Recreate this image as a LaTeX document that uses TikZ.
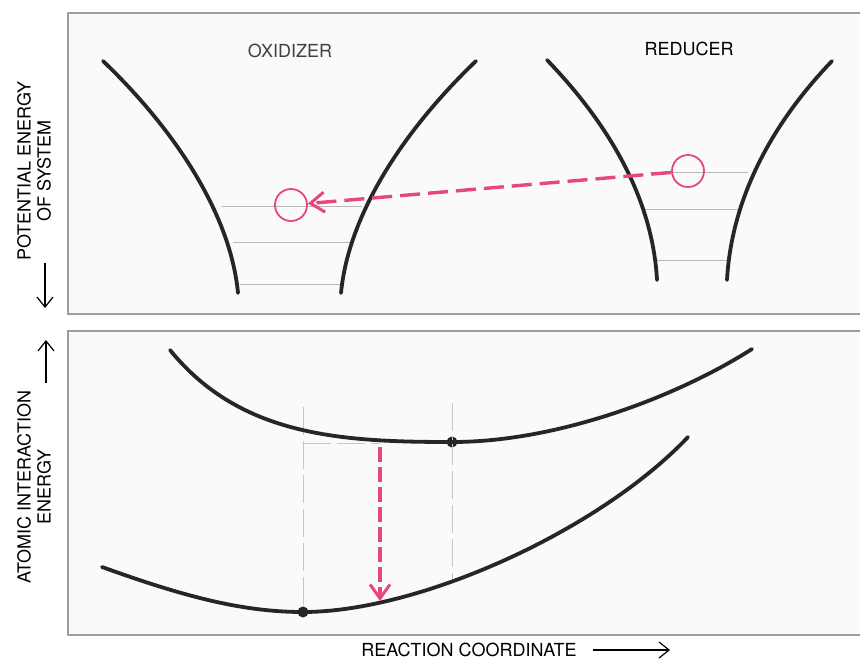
\documentclass[tikz,border=0pt]{standalone}
\usepackage{fontspec}
\setmainfont{TeX Gyre Heros}
\usepackage{tikz}
\usetikzlibrary{arrows.meta, positioning}
\definecolor{redoxpink}{RGB}{232,70,128}
\tikzset{
  panel/.style={draw=black!38, line width=1pt, fill=black!2},
  wellcurve/.style={line width=1.9pt, black!85, line cap=round},
  levelline/.style={black!28, line width=0.5pt},
  guideline/.style={black!22, line width=0.5pt, dash pattern=on 14pt off 3pt},
  paneltitle/.style={font=\fontsize{9}{10}\selectfont, inner sep=0pt},
  axislabel/.style={font=\fontsize{9}{10}\selectfont, align=center, inner sep=0pt},
  axisarrow/.style={line width=0.6pt, -{Straight Barb[length=5pt, width=8pt, line width=0.6pt]}}
}

\begin{document}
\begin{tikzpicture}[
  x=0.5pt, y=-0.5pt,
  electron/.style={circle, draw=redoxpink, line width=0.9pt, minimum size=16pt, inner sep=0pt},
  statedot/.style={circle, fill=black!85, minimum size=5.5pt, inner sep=0pt},
  jumparrow/.style={redoxpink, line width=1.7pt, dash pattern=on 10pt off 4pt,
                    -{Straight Barb[length=7pt, width=10pt, line width=1.5pt]}},
  droparrow/.style={jumparrow, dash pattern=on 7.5pt off 2.5pt},
]
\useasboundingbox (0,0) rectangle (860,659);

% --- Panels ---
\draw[panel] (68,13) rectangle (875,314);
\draw[panel] (68,331) rectangle (875,635);

% --- Oxidizer well ---
\draw[levelline] (222,206) -- (362,206);
\draw[levelline] (233,242) -- (353,242);
\draw[levelline] (240,284) -- (340,284);
\draw[wellcurve] (103,61) .. controls (170,125) and (230,210) .. (238,293);
\draw[wellcurve] (341,293) .. controls (349,210) and (409,125) .. (476,61);
\node[paneltitle, text=black!75] (oxlabel) at (290,51) {OXIDIZER};

% --- Reducer well ---
\draw[levelline] (650,172) -- (748,172);
\draw[levelline] (645,209) -- (738,209);
\draw[levelline] (655,260) -- (728,260);
\draw[wellcurve] (547,60) .. controls (600,115) and (652,190) .. (657,280);
\draw[wellcurve] (727,280) .. controls (732,190) and (780,115) .. (832,61);
\node[paneltitle] (redlabel) at (689,49) {REDUCER};

% --- Electron jump ---
\node[electron] (oxcirc) at (291,205) {};
\node[electron] (redcirc) at (688,171) {};
\draw[jumparrow] (redcirc) -- (oxcirc);

% --- Lower panel: guide lines ---
\node[statedot] (lowdot) at (303,612) {};
\node[statedot] (highdot) at (452,442) {};
\coordinate (lowguidetop) at (303,407);
\coordinate (highguidetop) at (452,403);
\coordinate (highguidebot) at (452,581);
\coordinate (levelend) at (380,443);
\draw[guideline] (lowguidetop) -- (lowdot);
\draw[guideline] (highguidetop) -- (highguidebot);
\draw[guideline] (303,443) -- (levelend);

% --- Lower panel: energy curves ---
\draw[wellcurve] (170,350) .. controls (240,436) and (340,442) .. (452,442)
                 .. controls (560,442) and (680,395) .. (752,349);
\draw[wellcurve] (102,567) .. controls (180,595) and (240,612) .. (303,612)
                 .. controls (420,612) and (600,530) .. (688,437);

% --- Vertical transition ---
\coordinate (dropstart) at (380,447);
\coordinate (dropend) at (380,601);
\draw[droparrow] (dropstart) -- (dropend);

% --- Axis labels ---
\node[axislabel, rotate=90] (potlabel) at (34,171) {POTENTIAL ENERGY\\OF SYSTEM};
\node[axislabel, rotate=90] (atomlabel) at (34,487) {ATOMIC INTERACTION\\ENERGY};
\node[axislabel] (rclabel) at (469,650) {REACTION COORDINATE};

\coordinate (pottop) at (45,263);
\coordinate (potbot) at (45,308);
\draw[axisarrow] (pottop) -- (potbot);
\coordinate (atombot) at (46,383);
\coordinate (atomtop) at (46,340);
\draw[axisarrow] (atombot) -- (atomtop);
\coordinate (rcstart) at (593,650);
\coordinate (rcend) at (670,650);
\draw[axisarrow] (rcstart) -- (rcend);

\end{tikzpicture}
\end{document}
